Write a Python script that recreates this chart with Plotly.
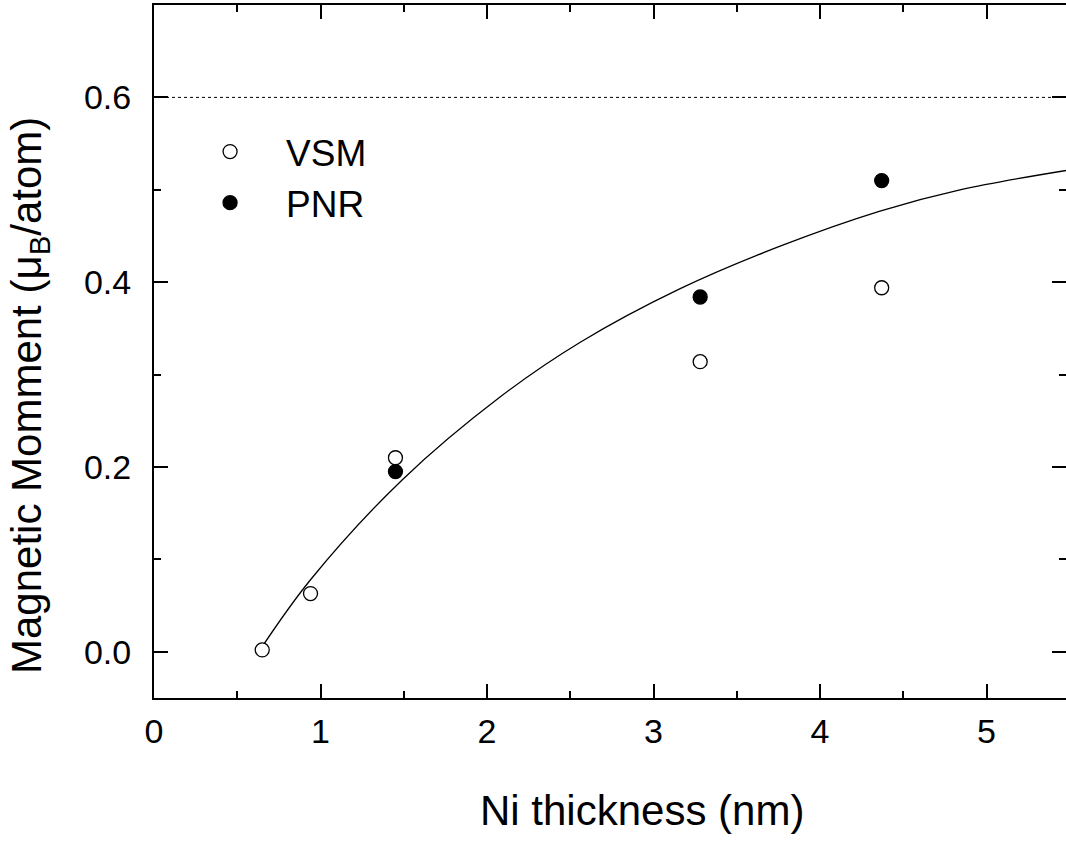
import plotly.graph_objects as go

# VSM (open circles)
vsm_x = [0.65, 0.94, 1.45, 3.28, 4.37]
vsm_y = [0.002, 0.063, 0.210, 0.314, 0.394]
# PNR (filled circles)
pnr_x = [1.45, 3.28, 4.37]
pnr_y = [0.195, 0.384, 0.510]
# fit curve
fit_x = [0.64, 0.94, 1.49, 2.08, 2.56, 3.16, 3.76, 4.36, 4.84, 5.48]
fit_y = [0.003, 0.078, 0.186, 0.276, 0.335, 0.393, 0.439, 0.477, 0.500, 0.521]
ref_level = 0.6

FONT = "Liberation Sans, Arial, sans-serif"

fig = go.Figure()
fig.add_trace(go.Scatter(x=fit_x, y=fit_y, mode="lines", line=dict(color="black", width=1.3, shape="spline"),
                         showlegend=False, hoverinfo="skip"))
fig.add_trace(go.Scatter(x=vsm_x, y=vsm_y, mode="markers", name="VSM", legendgroup="a",
                         marker=dict(symbol="circle", size=14, color="white", line=dict(color="black", width=1.3))))
fig.add_trace(go.Scatter(x=pnr_x, y=pnr_y, mode="markers", name="PNR", legendgroup="b",
                         marker=dict(symbol="circle", size=14, color="black", line=dict(color="black", width=1.3))))
# dummy trace for right-side ticks axis
fig.add_trace(go.Scatter(x=[None], y=[None], yaxis="y2", showlegend=False))

fig.add_shape(type="line", xref="paper", x0=0, x1=1, yref="y", y0=ref_level, y1=ref_level,
              line=dict(color="black", width=1, dash="dot"))

fig.update_layout(
    width=1066, height=841,
    margin=dict(l=154, r=0, t=5, b=143),
    plot_bgcolor="white", paper_bgcolor="white",
    font=dict(family=FONT, size=34, color="black"),
    showlegend=True,
    legend=dict(x=0.022, y=0.8326, xanchor="left", yanchor="top", bgcolor="rgba(0,0,0,0)",
                font=dict(size=37), itemwidth=102, tracegroupgap=0, traceorder="grouped"),
    xaxis=dict(range=[0, 5.477], showline=True, linewidth=2, linecolor="black", mirror="ticks",
               ticks="inside", ticklen=14, tickwidth=2, tickcolor="black", dtick=1, tick0=0,
               minor=dict(dtick=0.5, ticklen=7, tickwidth=2, ticks="inside", tickcolor="black"),
               showgrid=False, zeroline=False, ticklabelstandoff=2,
               tickfont=dict(size=34)),
    yaxis=dict(range=[-0.05, 0.70], showline=True, linewidth=2, linecolor="black", mirror=False,
               ticks="inside", ticklen=14, tickwidth=2, tickcolor="black", dtick=0.2, tick0=0,
               tickformat=".1f",
               minor=dict(dtick=0.1, ticklen=7, tickwidth=2, ticks="inside", tickcolor="black"),
               showgrid=False, zeroline=False, ticklabelstandoff=14,
               tickfont=dict(size=34)),
    yaxis2=dict(overlaying="y", side="right", matches="y", showline=False, showticklabels=False,
                ticks="inside", ticklen=14, tickwidth=2, tickcolor="black", dtick=0.2, tick0=0,
                minor=dict(dtick=0.1, ticklen=7, tickwidth=2, ticks="inside", tickcolor="black"),
                showgrid=False, zeroline=False),
)

fig.add_annotation(text="Magnetic Momment (μ<sub>B</sub>/atom)", xref="paper", yref="paper",
                   x=(30 - 154) / 912, y=(698 - 396) / 693, textangle=-90, showarrow=False,
                   font=dict(size=42, family=FONT), xanchor="center", yanchor="middle")
fig.add_annotation(text="Ni thickness (nm)", xref="paper", yref="paper",
                   x=(642 - 154) / 912, y=(698 - 810) / 693, showarrow=False,
                   font=dict(size=42, family=FONT), xanchor="center", yanchor="middle")

fig.write_html("out.html")
